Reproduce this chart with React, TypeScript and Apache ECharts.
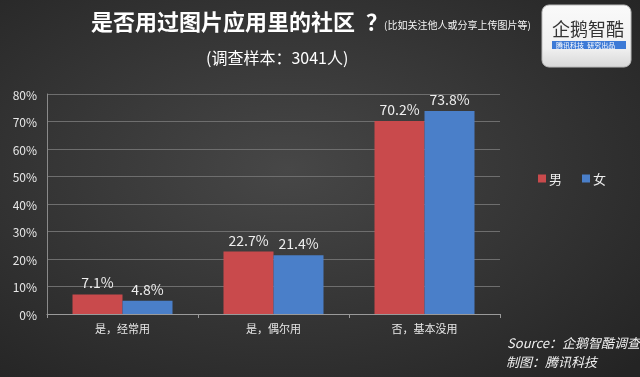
import React, { useEffect, useRef } from "react";
import * as echarts from "echarts";

const categories = ["是，经常用", "是，偶尔用", "否，基本没用"];
const maleValues = [7.1, 22.7, 70.2];
const femaleValues = [4.8, 21.4, 73.8];
const yTicks = [0, 10, 20, 30, 40, 50, 60, 70, 80];

export default function App() {
  const ref = useRef<HTMLDivElement>(null);
  useEffect(() => {
    const chart = echarts.init(ref.current!, null, { renderer: "svg" });
    const font = "'Noto Sans CJK SC', 'Noto Sans', sans-serif";
    const cjk = "'Noto Sans CJK SC', sans-serif";
    chart.setOption({
      animation: false,
      backgroundColor: {
        type: "radial",
        x: 0.45,
        y: 0.45,
        r: 0.75,
        colorStops: [
          { offset: 0, color: "#474747" },
          { offset: 1, color: "#242424" },
        ],
      },
      textStyle: { fontFamily: font },
      grid: { left: 47, right: 140, top: 94, bottom: 63 },
      legend: {
        left: 533,
        top: 167,
        itemWidth: 8,
        itemHeight: 8,
        itemGap: 20,
        icon: "rect",
        textStyle: { color: "#eeeeee", fontSize: 13, fontFamily: font, padding: [0, 0, 0, -2] },
        data: ["男", "女"],
      },
      xAxis: {
        type: "category",
        data: categories,
        axisLine: { lineStyle: { color: "#9a9a9a" } },
        axisTick: { show: true, alignWithLabel: false, lineStyle: { color: "#9a9a9a" }, length: 4 },
        axisLabel: { color: "#e8e8e8", fontSize: 11, margin: 8, fontFamily: font },
      },
      yAxis: {
        type: "value",
        min: 0,
        max: 80,
        interval: 10,
        axisLine: { show: true, lineStyle: { color: "#8a8a8a" } },
        axisTick: { show: false },
        splitLine: { lineStyle: { color: "#6e6e6e", width: 1 } },
        axisLabel: {
          color: "#e8e8e8",
          fontSize: 12,
          margin: 10,
          formatter: (v: number) => (yTicks.includes(v) ? v + "%" : ""),
          fontFamily: font,
        },
      },
      series: [
        {
          name: "男",
          type: "bar",
          data: maleValues,
          barWidth: 50,
          barGap: "0%",
          itemStyle: { color: "#c94a4c" },
          label: {
            show: true,
            position: "top",
            color: "#eeeeee",
            fontSize: 14,
            formatter: (p: any) => p.value.toFixed(1) + "%",
            fontFamily: font,
          },
        },
        {
          name: "女",
          type: "bar",
          data: femaleValues,
          barWidth: 50,
          barGap: "0%",
          itemStyle: { color: "#4a7fc9" },
          label: {
            show: true,
            position: "top",
            color: "#eeeeee",
            fontSize: 14,
            formatter: (p: any) => p.value.toFixed(1) + "%",
            fontFamily: font,
          },
        },
      ],
      graphic: [
        {
          type: "text",
          left: 91,
          top: 9,
          style: {
            text: "是否用过图片应用里的社区",
            fill: "#ffffff",
            font: `bold 22px ${cjk}`,
          },
        },
        {
          type: "text",
          left: 366,
          top: 9,
          style: {
            text: "？",
            fill: "#ffffff",
            font: `bold 22px ${cjk}`,
          },
        },
        {
          type: "text",
          left: 384,
          top: 19,
          style: {
            text: "(比如关注他人或分享上传图片等)",
            fill: "#f4f4f4",
            font: `10px ${cjk}`,
          },
        },
        {
          type: "text",
          left: 206,
          top: 49,
          style: {
            text: "(调查样本：3041人)",
            fill: "#ffffff",
            font: `16px ${cjk}`,
          },
        },
        {
          type: "rect",
          shape: { x: 542, y: 5, width: 89, height: 62, r: 7 },
          style: {
            fill: {
              type: "linear",
              x: 0,
              y: 0,
              x2: 0,
              y2: 1,
              colorStops: [
                { offset: 0, color: "#fafafa" },
                { offset: 0.7, color: "#f0f0f0" },
                { offset: 1, color: "#d8d8d8" },
              ],
            },
            stroke: "#bbbbbb",
          },
        },
        {
          type: "text",
          left: 552,
          top: 19,
          style: {
            text: "企鹅智酷",
            fill: "#333333",
            font: `18px ${cjk}`,
          },
        },
        {
          type: "rect",
          shape: { x: 552, y: 41, width: 74, height: 8 },
          style: { fill: "#3d7ad6" },
        },
        {
          type: "text",
          left: 556,
          top: 41,
          style: {
            text: "腾讯科技  研究出品",
            fill: "#ffffff",
            font: `7px ${cjk}`,
          },
        },
        {
          type: "text",
          left: 507,
          top: 336,
          style: {
            text: "Source：企鹅智酷调查",
            fill: "#f0f0f0",
            font: `italic 13px ${cjk}`,
          },
        },
        {
          type: "text",
          left: 506,
          top: 355,
          style: {
            text: "制图：腾讯科技",
            fill: "#f0f0f0",
            font: `italic 13px ${cjk}`,
          },
        },
      ],
    });
    return () => chart.dispose();
  }, []);
  return <div ref={ref} style={{ width: 640, height: 377, position: "fixed", left: 0, top: 0 }} />;
}
